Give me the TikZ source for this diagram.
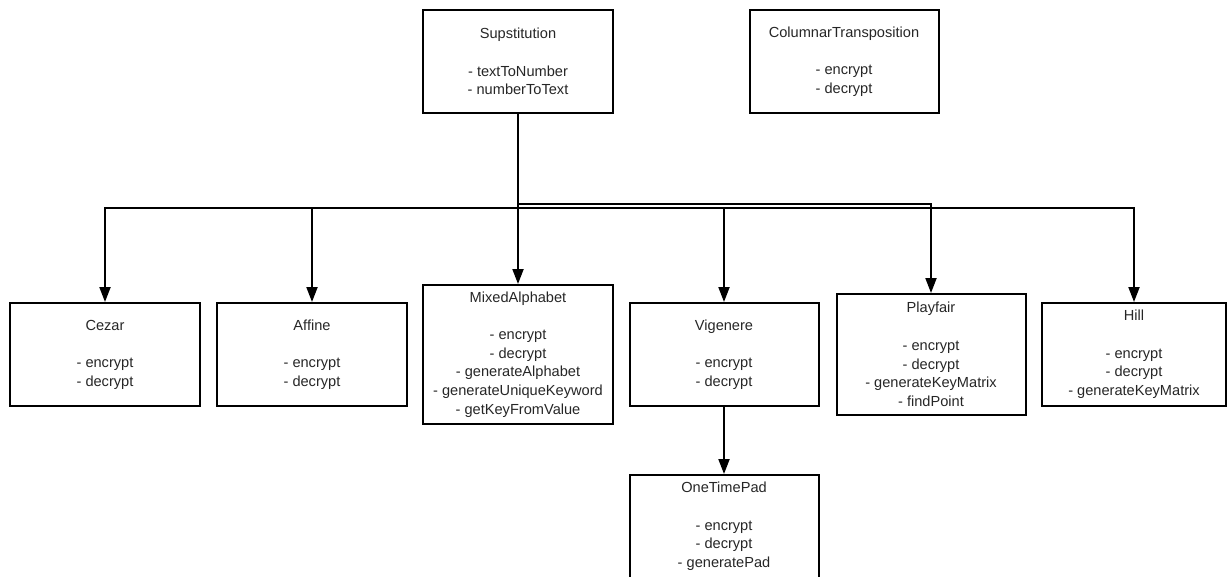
\documentclass[tikz,border=0pt]{standalone}
\usepackage{fontspec}
\setmainfont{Liberation Sans}
\usetikzlibrary{arrows.meta}
\tikzset{
  cls/.style={draw, line width=2pt, align=center, inner sep=0pt,
    minimum width=190pt, minimum height=103pt,
    font=\fontsize{14.6}{18.7}\selectfont, text=black!85},
  link/.style={line width=2pt},
  inherit/.style={link, -{Triangle[width=11pt,length=15pt]}}
}
\begin{document}
\begin{tikzpicture}[x=1pt,y=-1pt]
      \useasboundingbox (0,0) rectangle (1230,576);
      \draw
        (518,61.5) node[cls] (sup){Supstitution\\[18.7pt]- textToNumber\\- numberToText}
        (844,61.5) node[cls, minimum width=189pt] (col){ColumnarTransposition\\[18.7pt]- encrypt\\- decrypt}
        (105,354.5) node[cls] (cezar){Cezar\\[18.7pt]- encrypt\\- decrypt}
        (312,354.5) node[cls] (affine){Affine\\[18.7pt]- encrypt\\- decrypt}
        (518,354.5) node[cls, minimum height=139pt] (mixed){MixedAlphabet\\[18.7pt]- encrypt\\- decrypt\\- generateAlphabet\\- generateUniqueKeyword\\- getKeyFromValue}
        (724,354.5) node[cls, minimum width=189pt] (vig){Vigenere\\[18.7pt]- encrypt\\- decrypt}
        (931,354.5) node[cls, minimum width=189pt, minimum height=121pt] (play){Playfair\\[18.7pt]- encrypt\\- decrypt\\- generateKeyMatrix\\- findPoint}
        (1134,354.5) node[cls, minimum width=184pt] (hill){Hill\\[18.7pt]- encrypt\\- decrypt\\- generateKeyMatrix}
        (724,526.5) node[cls, minimum width=189pt] (otp){OneTimePad\\[18.7pt]- encrypt\\- decrypt\\- generatePad};
      \coordinate (bus) at (518,208);
      \coordinate (bus2) at (518,203.5);
      \begin{scope}
        \draw[link] (sup.south) -- (bus);
        \foreach \n in {cezar,affine,mixed,vig,hill}
          \draw[inherit] (bus) -| (\n.north);
        \draw[inherit] (bus2) -| (play.north);
        \draw[inherit] (vig) -- (otp);
      \end{scope}
    \end{tikzpicture}
\end{document}
